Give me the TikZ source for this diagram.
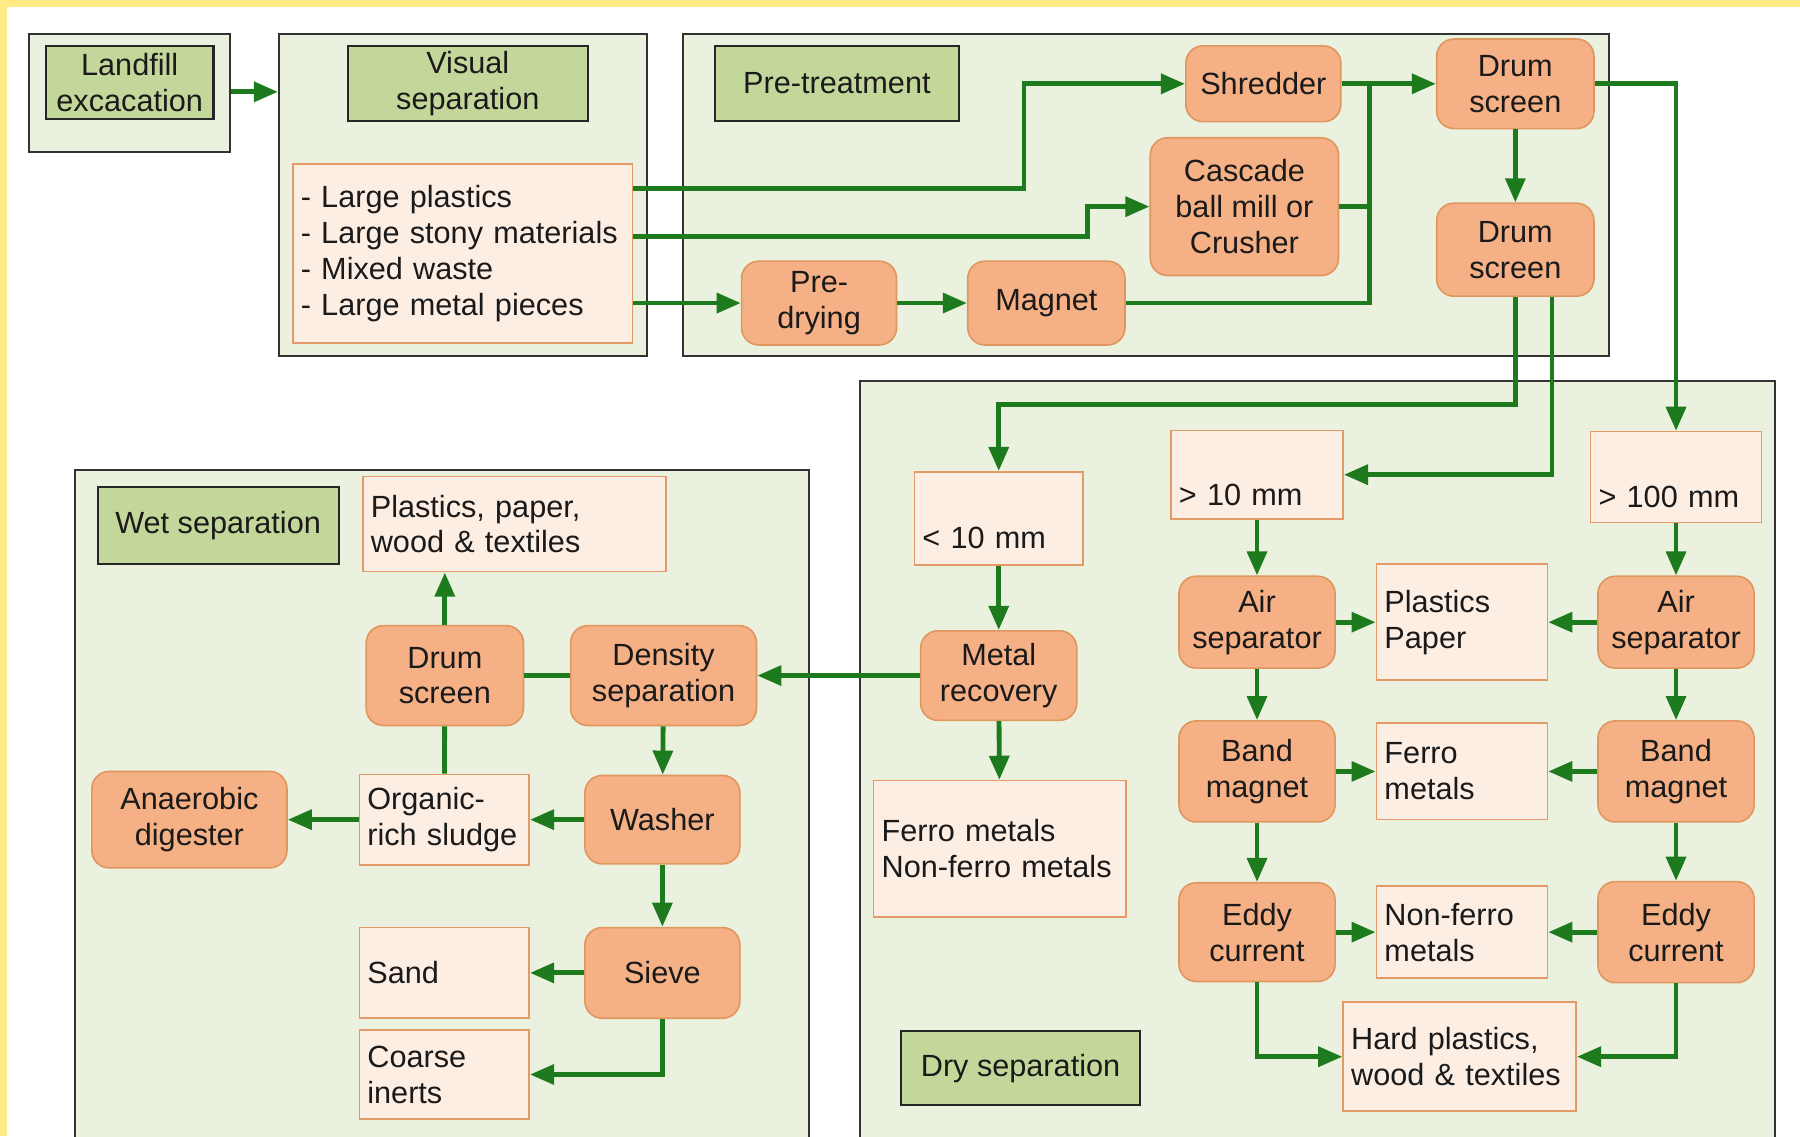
\documentclass[tikz,border=0pt]{standalone}
\usepackage{fontspec}
\setmainfont{Liberation Sans}
\usepackage{xcolor}
\usepackage{tikz}
\usetikzlibrary{arrows.meta}

\definecolor{grpfill}{HTML}{EAF1DF}
\definecolor{grpline}{HTML}{333333}
\definecolor{ttlfill}{HTML}{C4D79B}
\definecolor{ttlline}{HTML}{262626}
\definecolor{procfill}{HTML}{F5B185}
\definecolor{procline}{HTML}{E0965F}
\definecolor{outfill}{HTML}{FDEEE3}
\definecolor{outbd}{HTML}{E39A68}
\definecolor{flowgreen}{HTML}{1D7A1D}
\definecolor{txtcol}{HTML}{1A1A1A}
\definecolor{bandyellow}{HTML}{FFEC86}

\newcommand{\diafont}{\fontsize{15.2}{17.8}\selectfont}

\tikzset{
  grp/.style={draw=grpline, fill=grpfill, line width=1pt, inner sep=0pt},
  ttl/.style={draw=ttlline, fill=ttlfill, line width=1pt, align=center, inner sep=0pt},
  proc/.style={draw=procline, fill=procfill, line width=0.8pt, rounded corners=0.3cm,
    align=center, inner sep=0pt, minimum width=2.72cm, minimum height=1.6cm},
  outbox/.style={draw=outbd, fill=outfill, line width=0.8pt, align=left,
    inner xsep=0.14cm, inner ysep=0pt},
  flow/.style={draw=flowgreen, line width=2.4pt, -{Triangle[length=0.42cm,width=0.34cm]}},
  link/.style={draw=flowgreen, line width=2.4pt},
}

\begin{document}
\begin{tikzpicture}[x=0.02cm, y=-0.02cm, every node/.style={font=\diafont, text=txtcol}]
            \clip (0,0) rectangle (1568,990);
            \fill[white] (0,0) rectangle (1568,990);
            \fill[bandyellow] (0,0) rectangle (1568,6);
            \fill[bandyellow] (0,0) rectangle (6,990);

            \node[grp, minimum width=3.5cm, minimum height=2.04cm] (landgrp) at (112.5,81) {};
            \node[grp, minimum width=6.42cm, minimum height=5.6cm] (visgrp) at (403.5,170) {};
            \node[grp, minimum width=16.14cm, minimum height=5.6cm] (pregrp) at (998.5,170) {};
            \node[grp, minimum width=15.94cm, minimum height=14cm] (drygrp) at (1147.5,682) {};
            \node[grp, minimum width=12.8cm, minimum height=12.82cm] (wetgrp) at (385,729.5) {};

            \node[ttl, minimum width=2.92cm, minimum height=1.28cm] (landttl) at (113,72) {Landfill\\excacation};
            \node[ttl, minimum width=4.18cm, minimum height=1.3cm] (visttl) at (407.5,72.5) {Visual\\separation};
            \node[ttl, minimum width=4.24cm, minimum height=1.3cm] (prettl) at (729,72.5) {Pre-treatment};
            \node[ttl, minimum width=4.16cm, minimum height=1.3cm] (dryttl) at (889,930.5) {Dry separation};
            \node[ttl, minimum width=4.2cm, minimum height=1.34cm] (wetttl) at (190,457.5) {Wet separation};

            \node[outbox, text width=5.64cm, minimum height=3.12cm] (waste) at (403,221)
                {- Large plastics\\- Large stony materials\\- Mixed waste\\- Large metal pieces};

            \node[proc, minimum width=2.7cm, minimum height=1.32cm] (shred) at (1100.5,73) {Shredder};
            \node[proc, minimum width=2.74cm, minimum height=1.56cm] (drumA) at (1320,73) {Drum\\screen};
            \node[proc, minimum width=3.28cm, minimum height=2.4cm] (casc) at (1084,180) {Cascade\\ball mill or\\Crusher};
            \node[proc, minimum width=2.74cm, minimum height=1.62cm] (drumB) at (1320,217.5) {Drum\\screen};
            \node[proc, minimum width=2.7cm, minimum height=1.46cm] (predry) at (713.5,264) {Pre-\\drying};
            \node[proc, minimum width=2.74cm, minimum height=1.46cm] (magnet) at (911.5,264) {Magnet};
            \coordinate (jn) at (1193,73);

            \node[outbox, text width=2.66cm, minimum height=1.62cm] (fine) at (870,451.5) {\strut\\< 10 mm};
            \node[outbox, text width=2.72cm, minimum height=1.54cm] (midsz) at (1095,413.5) {\strut\\> 10 mm};
            \node[outbox, text width=2.7cm, minimum height=1.58cm] (bigsz) at (1460,415.5) {\strut\\> 100 mm};
            \node[proc, minimum height=1.56cm] (metrec) at (870,588.5) {Metal\\recovery};
            \node[outbox, text width=4.12cm, minimum height=2.38cm] (metals) at (871,739.5) {Ferro metals\\Non-ferro metals};
            \node[proc] (airL) at (1095,542) {Air\\separator};
            \node[outbox, text width=2.7cm, minimum height=2.02cm] (plpa) at (1273.5,542) {Plastics\\Paper};
            \node[proc] (airR) at (1460,542) {Air\\separator};
            \node[proc, minimum height=1.76cm] (bandL) at (1095,672) {Band\\magnet};
            \node[outbox, text width=2.7cm, minimum height=1.68cm] (ferro) at (1273.5,672) {Ferro\\metals};
            \node[proc, minimum height=1.76cm] (bandR) at (1460,672) {Band\\magnet};
            \node[proc, minimum height=1.72cm] (eddyL) at (1095,812) {Eddy\\current};
            \node[outbox, text width=2.7cm, minimum height=1.6cm] (nonferro) at (1273.5,812) {Non-ferro\\metals};
            \node[proc, minimum height=1.76cm] (eddyR) at (1460,812) {Eddy\\current};
            \node[outbox, text width=3.78cm, minimum height=1.9cm] (hard) at (1271.5,920.5) {Hard plastics,\\wood \& textiles};

            \node[outbox, text width=5cm, minimum height=1.66cm] (lightwet) at (448,456.5) {Plastics, paper,\\wood \& textiles};
            \node[proc, minimum width=2.74cm, minimum height=1.74cm] (drumW) at (387.5,588.5) {Drum\\screen};
            \node[proc, minimum width=3.24cm, minimum height=1.74cm] (dens) at (578,588.5) {Density\\separation};
            \node[proc, minimum width=2.7cm, minimum height=1.54cm] (washer) at (577,714) {Washer};
            \node[outbox, text width=2.68cm, minimum height=1.58cm] (sludge) at (387,714) {Organic-\\rich sludge};
            \node[proc, minimum width=3.4cm, minimum height=1.68cm] (anaer) at (165,714) {Anaerobic\\digester};
            \node[proc, minimum width=2.7cm, minimum height=1.58cm] (sieve) at (577,847.5) {Sieve};
            \node[outbox, text width=2.68cm, minimum height=1.58cm] (sand) at (387,847.5) {Sand};
            \node[outbox, text width=2.68cm, minimum height=1.56cm] (inerts) at (387,936) {Coarse\\inerts};

            \draw[flow] (landgrp.east |- 0,80) -- (visgrp.west |- 0,80);
            \draw[flow] (waste.east |- 0,164) -- (892,164) |- (shred.west);
            \draw[flow] (waste.east |- 0,206) -- (947,206) |- (casc.west);
            \draw[flow] (waste.east |- predry.west) -- (predry.west);
            \draw[flow] (predry) -- (magnet);
            \draw[link] (magnet.east) -| (jn);
            \draw[link] (casc.east) -- (casc.east -| jn);
            \draw[flow] (shred) -- (drumA);
            \draw[flow] (drumA) -- (drumB);
            \draw[flow] (drumA.east) -| (bigsz.north);
            \draw[flow] (drumB.south) -- (drumB.south |- 0,352) -| (fine.north);
            \draw[flow] ([xshift=0.64cm]drumB.south) |- (midsz.east);

            \draw[flow] (fine) -- (metrec);
            \draw[flow] (metrec) -- (metals);
            \draw[flow] (metrec) -- (dens);
            \draw[flow] (midsz) -- (airL);
            \draw[flow] (bigsz) -- (airR);
            \draw[flow] (airL) -- (plpa);
            \draw[flow] (airR) -- (plpa);
            \draw[flow] (airL) -- (bandL);
            \draw[flow] (airR) -- (bandR);
            \draw[flow] (bandL) -- (ferro);
            \draw[flow] (bandR) -- (ferro);
            \draw[flow] (bandL) -- (eddyL);
            \draw[flow] (bandR) -- (eddyR);
            \draw[flow] (eddyL) -- (nonferro);
            \draw[flow] (eddyR) -- (nonferro);
            \draw[flow] (eddyL.south) |- (hard.west);
            \draw[flow] (eddyR.south) |- (hard.east);

            \draw[link] (dens) -- (drumW);
            \draw[flow] (drumW) -- (drumW |- lightwet.south);
            \draw[link] (drumW) -- (sludge);
            \draw[flow] (dens) -- (washer);
            \draw[flow] (washer) -- (sludge);
            \draw[flow] (sludge) -- (anaer);
            \draw[flow] (washer) -- (sieve);
            \draw[flow] (sieve) -- (sand);
            \draw[flow] (sieve.south) |- (inerts.east);
        \end{tikzpicture}
\end{document}
